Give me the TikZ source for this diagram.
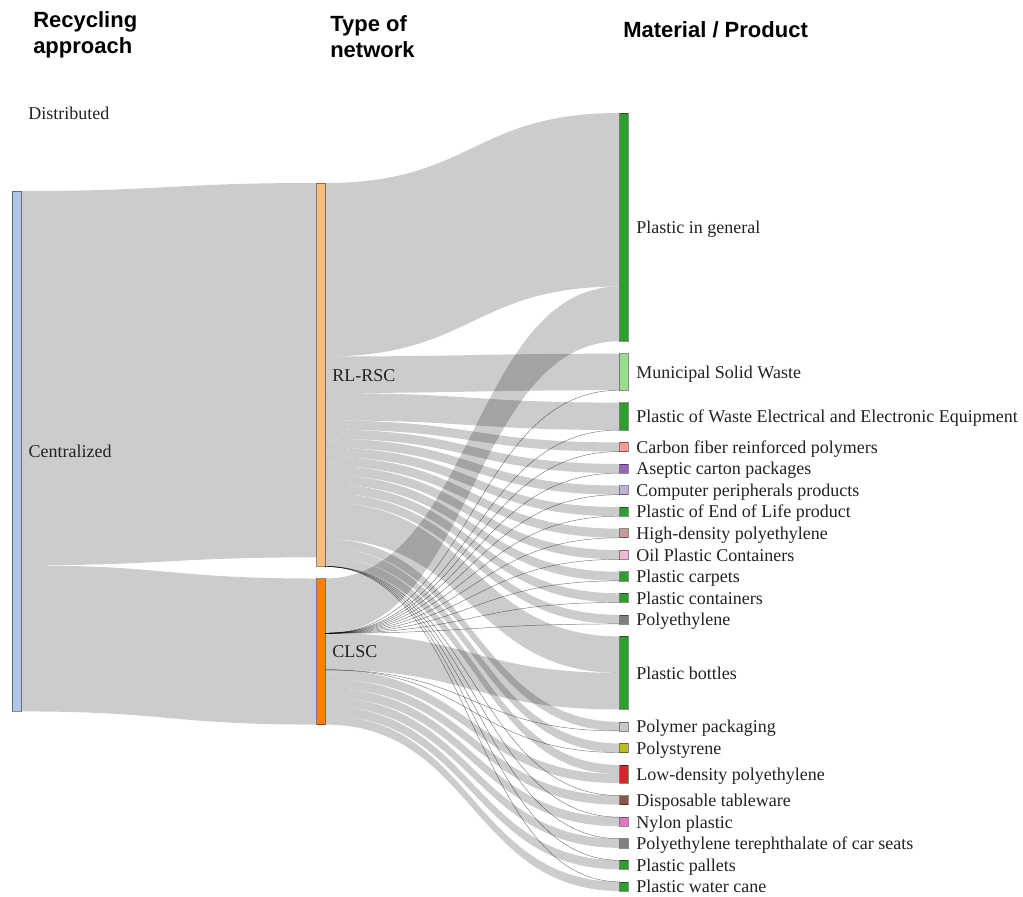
\documentclass[tikz,border=0pt]{standalone}
\usepackage{fontspec}
\setmainfont{Liberation Serif}
\newfontfamily\hdrfont{Liberation Sans}
\usetikzlibrary{calc,backgrounds}
\definecolor{cBlueL}{HTML}{AEC7E8}
\definecolor{cOrangeL}{HTML}{FFBB78}
\definecolor{cOrange}{HTML}{FF7F0E}
\definecolor{cGreen}{HTML}{2CA02C}
\definecolor{cGreenL}{HTML}{98DF8A}
\definecolor{cRed}{HTML}{D62728}
\definecolor{cRedL}{HTML}{FF9896}
\definecolor{cPurple}{HTML}{9467BD}
\definecolor{cPurpleL}{HTML}{C5B0D5}
\definecolor{cBrown}{HTML}{8C564B}
\definecolor{cBrownL}{HTML}{C49C94}
\definecolor{cPink}{HTML}{E377C2}
\definecolor{cPinkL}{HTML}{F7B6D2}
\definecolor{cGray}{HTML}{7F7F7F}
\definecolor{cGrayL}{HTML}{C7C7C7}
\definecolor{cOlive}{HTML}{BCBD22}
\definecolor{txt}{HTML}{222222}
\def\U{9.13}
\newcommand\slink[5]{%
  \path ($(#1.north east)+(0,{(#2)*\U})$) coordinate (a1)
        ($(#1.north east)+(0,{(#2+#5)*\U})$) coordinate (a2)
        ($(#3.north west)+(0,{(#4)*\U})$) coordinate (b1)
        ($(#3.north west)+(0,{(#4+#5)*\U})$) coordinate (b2)
        ($(a1)!0.5!(b1)$) coordinate (m);
  \fill[flow] (a1) .. controls (m |- a1) and (m |- b1) .. (b1) -- (b2)
     .. controls (m |- b2) and (m |- a2) .. (a2) -- cycle;}
\newcommand\zlink[4]{%
  \path ($(#1.north east)+(0,{(#2)*\U})$) coordinate (a1)
        ($(#3.north west)+(0,{(#4)*\U})$) coordinate (b1)
        ($(a1)!0.5!(b1)$) coordinate (m);
  \draw[zline] (a1) .. controls (m |- a1) and (m |- b1) .. (b1);}
\begin{document}
\begin{tikzpicture}[x=0.75pt,y=-0.75pt,
  bar/.style={draw=black, draw opacity=0.45, line width=0.4pt, inner sep=0pt,
    outer sep=0pt, minimum width=6.375pt, anchor=north west},
  bh/.style={minimum height={#1*9.13*0.75pt}},
  flow/.style={fill=black, fill opacity=0.2},
  zline/.style={draw=black, draw opacity=0.5, line width=0.35pt},
  lbl/.style={anchor=base west, inner sep=0pt, text=txt,
    font=\fontsize{13.5}{16}\selectfont},
  hdr/.style={anchor=north west, inner sep=0pt, align=left, text=black,
    font=\hdrfont\bfseries\fontsize{16.5}{19.5}\selectfont}]
\useasboundingbox (0,0) rectangle (1023,896);

% headers
\node[hdr] (h1) at (33,11) {Recycling\\approach};
\node[hdr] (h2) at (330,15) {Type of\\network};
\node[hdr] (h3) at (623,21) {Material / Product};

% column 1
\node[bar, fill=cBlueL, bh=57] (cen) at (12.3,191) {};
\node[lbl] (distl) at (28,119.3) {Distributed};
% column 2
\node[bar, fill=cOrangeL, bh=42] (rl) at (316.5,183) {};
\node[bar, fill=cOrange, bh=16] (cl) at (316.5,578.5) {};
% column 3
\node[bar, fill=cGreen, bh=25] (pig) at (619.7,113) {};
\node[bar, fill=cGreenL, bh=4] (msw) at (619.7,353.67) {};
\node[bar, fill=cGreen, bh=3] (weee) at (619.7,402.61) {};
\node[bar, fill=cRedL, bh=1] (cfrp) at (619.7,442.42) {};
\node[bar, fill=cPurple, bh=1] (asep) at (619.7,463.97) {};
\node[bar, fill=cPurpleL, bh=1] (comp) at (619.7,485.52) {};
\node[bar, fill=cGreen, bh=1] (eol) at (619.7,507.07) {};
\node[bar, fill=cBrownL, bh=1] (hdpe) at (619.7,528.62) {};
\node[bar, fill=cPinkL, bh=1] (oil) at (619.7,550.17) {};
\node[bar, fill=cGreen, bh=1] (carp) at (619.7,571.72) {};
\node[bar, fill=cGreen, bh=1] (cont) at (619.7,593.27) {};
\node[bar, fill=cGray, bh=1] (pe) at (619.7,614.82) {};
\node[bar, fill=cGreen, bh=8] (bott) at (619.7,636.37) {};
\node[bar, fill=cGrayL, bh=1] (ppack) at (619.7,721.83) {};
\node[bar, fill=cOlive, bh=1] (ps) at (619.7,743.38) {};
\node[bar, fill=cRed, bh=2] (ldpe) at (619.7,764.93) {};
\node[bar, fill=cBrown, bh=1] (tab) at (619.7,795.61) {};
\node[bar, fill=cPink, bh=1] (nyl) at (619.7,817.16) {};
\node[bar, fill=cGray, bh=1] (pet) at (619.7,838.71) {};
\node[bar, fill=cGreen, bh=1] (pal) at (619.7,860.26) {};
\node[bar, fill=cGreen, bh=1] (wat) at (619.7,881.81) {};

% labels
\node[lbl] (cenl) at ($(cen.east)+(7.5,6.3)$) {Centralized};
\node[lbl] (rll) at ($(rl.east)+(7,6.3)$) {RL-RSC};
\node[lbl] (cll) at ($(cl.east)+(7,6.3)$) {CLSC};
\node[lbl] (pigl) at ($(pig.east)+(8,6.3)$) {Plastic in general};
\node[lbl] (mswl) at ($(msw.east)+(8,6.3)$) {Municipal Solid Waste};
\node[lbl] (weeel) at ($(weee.east)+(8,6.3)$) {Plastic of Waste Electrical and Electronic Equipment};
\node[lbl] (cfrpl) at ($(cfrp.east)+(8,6.3)$) {Carbon fiber reinforced polymers};
\node[lbl] (asepl) at ($(asep.east)+(8,6.3)$) {Aseptic carton packages};
\node[lbl] (compl) at ($(comp.east)+(8,6.3)$) {Computer peripherals products};
\node[lbl] (eoll) at ($(eol.east)+(8,6.3)$) {Plastic of End of Life product};
\node[lbl] (hdpel) at ($(hdpe.east)+(8,6.3)$) {High-density polyethylene};
\node[lbl] (oill) at ($(oil.east)+(8,6.3)$) {Oil Plastic Containers};
\node[lbl] (carpl) at ($(carp.east)+(8,6.3)$) {Plastic carpets};
\node[lbl] (contl) at ($(cont.east)+(8,6.3)$) {Plastic containers};
\node[lbl] (pel) at ($(pe.east)+(8,6.3)$) {Polyethylene};
\node[lbl] (bottl) at ($(bott.east)+(8,6.3)$) {Plastic bottles};
\node[lbl] (ppackl) at ($(ppack.east)+(8,6.3)$) {Polymer packaging};
\node[lbl] (psl) at ($(ps.east)+(8,6.3)$) {Polystyrene};
\node[lbl] (ldpel) at ($(ldpe.east)+(8,6.3)$) {Low-density polyethylene};
\node[lbl] (tabl) at ($(tab.east)+(8,6.3)$) {Disposable tableware};
\node[lbl] (nyll) at ($(nyl.east)+(8,6.3)$) {Nylon plastic};
\node[lbl] (petl) at ($(pet.east)+(8,6.3)$) {Polyethylene terephthalate of car seats};
\node[lbl] (pall) at ($(pal.east)+(8,6.3)$) {Plastic pallets};
\node[lbl] (watl) at ($(wat.east)+(8,6.3)$) {Plastic water cane};

\begin{pgfonlayer}{background}
% approach -> network
\slink{cen}{0}{rl}{0}{41}
\slink{cen}{41}{cl}{0}{16}
% RL-RSC -> materials
\slink{rl}{0}{pig}{0}{19}
\slink{rl}{19}{msw}{0}{4}
\slink{rl}{23}{weee}{0}{3}
\slink{rl}{26}{cfrp}{0}{1}
\slink{rl}{27}{asep}{0}{1}
\slink{rl}{28}{comp}{0}{1}
\slink{rl}{29}{eol}{0}{1}
\slink{rl}{30}{hdpe}{0}{1}
\slink{rl}{31}{oil}{0}{1}
\slink{rl}{32}{carp}{0}{1}
\slink{rl}{33}{cont}{0}{1}
\slink{rl}{34}{pe}{0}{1}
\slink{rl}{35}{bott}{0}{4}
\slink{rl}{39}{ppack}{0}{1}
\slink{rl}{40}{ps}{0}{1}
\slink{rl}{41}{ldpe}{0}{1}
\foreach \t in {tab,nyl,pet,pal,wat} {\zlink{rl}{42}{\t}{0}}
% CLSC -> materials
\slink{cl}{0}{pig}{19}{6}
\zlink{cl}{6}{msw}{4}
\zlink{cl}{6}{weee}{3}
\foreach \t in {cfrp,asep,comp,eol,hdpe,oil,carp,cont,pe} {\zlink{cl}{6}{\t}{1}}
\slink{cl}{6}{bott}{4}{4}
\zlink{cl}{10}{ppack}{1}
\zlink{cl}{10}{ps}{1}
\slink{cl}{10}{ldpe}{1}{1}
\slink{cl}{11}{tab}{0}{1}
\slink{cl}{12}{nyl}{0}{1}
\slink{cl}{13}{pet}{0}{1}
\slink{cl}{14}{pal}{0}{1}
\slink{cl}{15}{wat}{0}{1}
\end{pgfonlayer}
\end{tikzpicture}
\end{document}
